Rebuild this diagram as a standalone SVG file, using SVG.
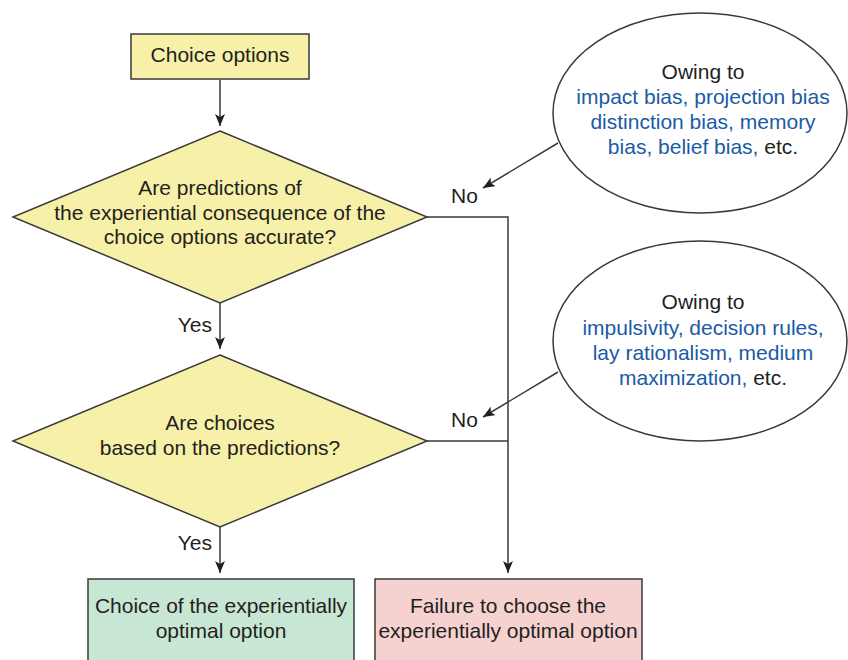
<svg xmlns="http://www.w3.org/2000/svg" width="848" height="660" viewBox="0 0 848 660">
<style>
text{font-family:"Liberation Sans",Arial,sans-serif;font-size:21px;fill:#231f20;text-anchor:middle}
.b{fill:#1a5aa6}
.l{text-anchor:start}
.e{text-anchor:end}
.shape{stroke:#3a3a3a;stroke-width:1.5}
.conn{fill:none;stroke:#3a3a3a;stroke-width:1.5}
</style>
<defs>
<marker id="ah" viewBox="0 0 12 10" refX="12" refY="5" markerWidth="12" markerHeight="10" markerUnits="userSpaceOnUse" orient="auto">
<path d="M0,0 L12,5 L0,10 L3,5 Z" fill="#231f20"/>
</marker>
</defs>
<rect width="848" height="660" fill="#ffffff"/>
<g id="connectors">
<path class="conn" d="M220,80 V126" marker-end="url(#ah)"/>
<path class="conn" d="M220,303 V349" marker-end="url(#ah)"/>
<path class="conn" d="M220,527 V573" marker-end="url(#ah)"/>
<path class="conn" d="M427,217 H508 V573" marker-end="url(#ah)"/>
<path class="conn" d="M427,441 H508"/>
<path class="conn" d="M558,143 L483,188" marker-end="url(#ah)"/>
<path class="conn" d="M558,372 L483,417" marker-end="url(#ah)"/>
<text class="e" x="212" y="332">Yes</text>
<text class="e" x="212" y="550">Yes</text>
<text class="l" x="451" y="203">No</text>
<text class="l" x="451" y="427">No</text>
</g>
<g id="start">
<rect class="shape" x="131" y="34" width="178" height="45" fill="#f6f0a8"/>
<text x="220" y="62">Choice options</text>
</g>
<g id="decision1">
<polygon class="shape" points="220,131 427,217 220,303 13,217" fill="#f6f0a8"/>
<text x="220" y="195">Are predictions of</text>
<text x="220" y="220">the experiential consequence of the</text>
<text x="220" y="244">choice options accurate?</text>
</g>
<g id="decision2">
<polygon class="shape" points="220,355 427,441 220,527 13,441" fill="#f6f0a8"/>
<text x="220" y="430">Are choices</text>
<text x="220" y="455">based on the predictions?</text>
</g>
<g id="reason1">
<ellipse class="shape" cx="700" cy="113" rx="147" ry="100" fill="#ffffff"/>
<text x="703" y="79">Owing to</text>
<text class="b" x="703" y="104">impact bias, projection bias</text>
<text class="b" x="703" y="129">distinction bias, memory</text>
<text x="703" y="154"><tspan class="b">bias, belief bias,</tspan> etc.</text>
</g>
<g id="reason2">
<ellipse class="shape" cx="700" cy="341" rx="147" ry="100" fill="#ffffff"/>
<text x="703" y="309">Owing to</text>
<text class="b" x="703" y="335">impulsivity, decision rules,</text>
<text class="b" x="703" y="360">lay rationalism, medium</text>
<text x="703" y="385"><tspan class="b">maximization,</tspan> etc.</text>
</g>
<g id="optimal">
<rect class="shape" x="88" y="579" width="266" height="100" fill="#c8e6d4"/>
<text x="221" y="613">Choice of the experientially</text>
<text x="221" y="638">optimal option</text>
</g>
<g id="failure">
<rect class="shape" x="375" y="579" width="267" height="100" fill="#f5d2d0"/>
<text x="508" y="613">Failure to choose the</text>
<text x="508" y="638">experientially optimal option</text>
</g>
</svg>
